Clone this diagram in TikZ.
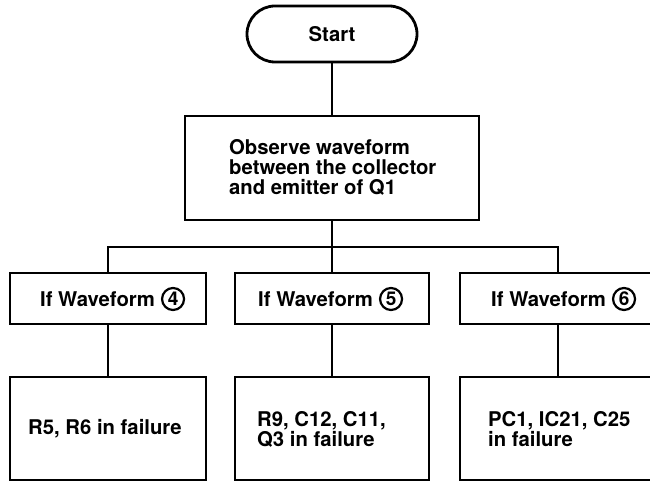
\documentclass[tikz,border=0pt]{standalone}
\usepackage{fontspec}
\setmainfont{TeX Gyre Heros}
\begin{document}
\begin{tikzpicture}[x=1pt,y=-1pt,
  box/.style={draw,line width=2.8pt,inner sep=0pt},
  link/.style={line width=2.3pt},
  txt/.style={inner sep=0pt,anchor=base west,font=\fontsize{20.3}{21}\selectfont\bfseries},
  num/.style={circle,draw,line width=2.2pt,inner sep=0pt,minimum size=22pt,font=\fontsize{19}{19}\selectfont\bfseries}]
\useasboundingbox (0,0) rectangle (650,486);
\fill[white] (0,0) rectangle (650,486);
% start
\node[box,rounded corners=28pt,minimum width=170pt,minimum height=56pt,font=\fontsize{20.3}{21}\selectfont\bfseries] (start) at (332,34) {Start};
% observe
\node[box,minimum width=294pt,minimum height=104pt] (obs) at (332,168) {};
\node[txt] (o1) at (229,155) {Observe waveform};
\node[txt] (o2) at (229,175) {between the collector};
\node[txt] (o3) at (229,195) {and emitter of Q1};
% if boxes
\node[box,minimum width=196pt,minimum height=51pt] (i4) at (108,298.5) {};
\node[txt] (t4) at (40,306) {If Waveform};
\node[num] (c4) at ([xshift=18pt,yshift=7pt]t4.base east) {4};
\node[box,minimum width=194pt,minimum height=51pt] (i5) at (332,298.5) {};
\node[txt] (t5) at (258,306) {If Waveform};
\node[num] (c5) at ([xshift=18pt,yshift=7pt]t5.base east) {5};
\node[box,minimum width=196pt,minimum height=51pt] (i6) at (558,298.5) {};
\node[txt] (t6) at (491,306) {If Waveform};
\node[num] (c6) at ([xshift=18pt,yshift=7pt]t6.base east) {6};
% result boxes
\node[box,minimum width=196pt,minimum height=103pt] (r4) at (108,428.5) {};
\node[txt] (a1) at (28,434) {R5, R6 in failure};
\node[box,minimum width=194pt,minimum height=103pt] (r5) at (332,428.5) {};
\node[txt] (b1) at (257,426) {R9, C12, C11,};
\node[txt] (b2) at (257,446) {Q3 in failure};
\node[box,minimum width=196pt,minimum height=103pt] (r6) at (558,428.5) {};
\node[txt] (d1) at (488,426) {PC1, IC21, C25};
\node[txt] (d2) at (488,446) {in failure};
% connectors
\coordinate (j) at (332,247);
\draw[link] (start.south) -- (obs.north);
\draw[link] (obs.south) -- (j);
\draw[link] (i4.north) |- (j) -| (i6.north);
\draw[link] (j) -- (i5.north);
\draw[link] (i4.south) -- (r4.north);
\draw[link] (i5.south) -- (r5.north);
\draw[link] (i6.south) -- (r6.north);
\end{tikzpicture}
\end{document}
